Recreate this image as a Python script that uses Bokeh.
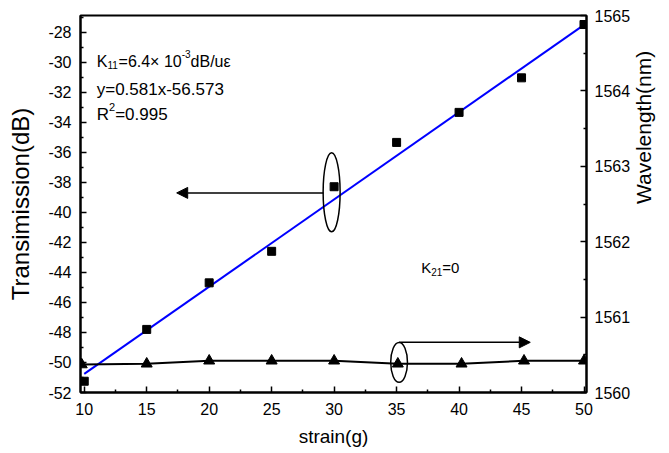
import math
from bokeh.plotting import figure
from bokeh.models import Range1d, LinearAxis, FixedTicker, Label, Arrow, NormalHead
from bokeh.embed import file_html
from bokeh.resources import INLINE

# ---- data ----
strain = [10, 15, 20, 25, 30, 35, 40, 45, 50]
transmission = [-51.25, -47.8, -44.7, -42.6, -38.3, -35.35, -33.35, -31.05, -27.5]
tri_strain = [9.8, 15, 20, 25, 30, 35.1, 40.2, 45.2, 50]
wavelength = [1560.37, 1560.38, 1560.42, 1560.42, 1560.42, 1560.38, 1560.38, 1560.42, 1560.42]
fit_slope = 0.581
fit_intercept = -56.573
fit_x = [10, 50]
x_ticks = [10, 15, 20, 25, 30, 35, 40, 45, 50]
x_minor = [12.5, 17.5, 22.5, 27.5, 32.5, 37.5, 42.5, 47.5]
left_ticks = [-52, -50, -48, -46, -44, -42, -40, -38, -36, -34, -32, -30, -28]
left_minor = [-51, -49, -47, -45, -43, -41, -39, -37, -35, -33, -31, -29, -27]
right_ticks = [1560, 1561, 1562, 1563, 1564, 1565]
right_minor = [1560.5, 1561.5, 1562.5, 1563.5, 1564.5]

FONT = "Liberation Sans"

p = figure(width=669, height=453, x_range=Range1d(9.7, 50.2), y_range=Range1d(-52, -26.9),
           output_backend="svg", toolbar_location=None,
           min_border_left=80, min_border_right=83, min_border_top=15, min_border_bottom=61)
p.extra_y_ranges = {"wl": Range1d(1560, 1565)}
p.xgrid.visible = False
p.ygrid.visible = False
p.outline_line_color = "black"
p.outline_line_width = 2
p.background_fill_color = "white"
p.border_fill_color = "white"

def style_axis(ax, ticks, minor, label, label_size, label_standoff, tick_standoff):
    ax.ticker = FixedTicker(ticks=ticks, minor_ticks=minor)
    ax.major_label_overrides = {t: str(t) for t in ticks}
    ax.axis_label = label
    ax.axis_label_text_font = FONT
    ax.axis_label_text_font_size = label_size
    ax.axis_label_text_font_style = "normal"
    ax.axis_label_text_color = "black"
    ax.axis_label_standoff = label_standoff
    ax.major_label_text_font = FONT
    ax.major_label_text_font_size = "16px"
    ax.major_label_text_color = "black"
    ax.major_label_standoff = tick_standoff
    ax.axis_line_width = 2
    ax.axis_line_color = "black"
    ax.major_tick_in = 6
    ax.major_tick_out = 0
    ax.minor_tick_in = 3
    ax.minor_tick_out = 0
    ax.major_tick_line_width = 1.5
    ax.minor_tick_line_width = 1.5
    ax.major_tick_line_color = "black"
    ax.minor_tick_line_color = "black"

style_axis(p.xaxis[0], x_ticks, x_minor, "strain(g)", "19px", 8, 10)
style_axis(p.yaxis[0], left_ticks, left_minor, "Transimission(dB)", "24px", 11, 9)
right_axis = LinearAxis(y_range_name="wl")
style_axis(right_axis, right_ticks, right_minor, "Wavelength(nm)", "21px", 10, 8)
right_axis.axis_label_orientation = math.pi / 2
right_axis.axis_label_text_align = "center"
right_axis.axis_label_text_baseline = "top"
p.add_layout(right_axis, "right")

# fit line
fit_y = [fit_slope * x + fit_intercept for x in fit_x]
p.line(fit_x, fit_y, line_color="#0000FF", line_width=2)
# transmission squares
p.scatter(strain, transmission, marker="square", size=8, fill_color="black", line_color="black")
# wavelength line with triangles
p.line(tri_strain, wavelength, y_range_name="wl", line_color="black", line_width=2)
p.scatter(tri_strain, wavelength, y_range_name="wl", marker="triangle", size=11,
          fill_color="black", line_color="black")

# ellipses and arrows
p.ellipse(x=[29.8], y=[-38.67], width=1.36, height=5.27, fill_color=None,
          line_color="black", line_width=1.5)
p.add_layout(Arrow(x_start=29.15, y_start=-38.71, x_end=17.4, y_end=-38.71,
                   line_color="black", line_width=1.5,
                   end=NormalHead(size=11, fill_color="black", line_color="black")))
p.ellipse(x=[35.2], y=[1560.4], width=1.34, height=0.53, fill_color=None,
          line_color="black", line_width=1.5, y_range_name="wl")
p.add_layout(Arrow(x_start=35.2, y_start=1560.665, x_end=45.7, y_end=1560.665,
                   y_range_name="wl", line_color="black", line_width=1.5,
                   end=NormalHead(size=11, fill_color="black", line_color="black")))

# rich text helper (sub/superscripts)
W = {'K': .667, '1': .556, '2': .556, '3': .556, '4': .556, '5': .556, '6': .556, '7': .556,
     '8': .556, '9': .556, '0': .556, '=': .584, '.': .278, '×': .584, ' ': .278, '-': .333,
     'd': .556, 'B': .667, '/': .278, 'u': .556, 'ε': .45, 'R': .722, 'y': .5, 'x': .5}

def rich(parts, x, y):
    off = 0.0
    for text, size, dy in parts:
        p.add_layout(Label(x=x, y=y, x_offset=off, y_offset=dy, text=text,
                           text_font=FONT, text_font_size=f"{size}px", text_color="black",
                           text_baseline="alphabetic", text_align="left"))
        off += sum(W.get(c, .556) for c in text) * size

rich([("K", 16, 0), ("11", 10, -4), ("=6.4× 10", 16, 0), ("-3", 10, 7), ("dB/uε", 16, 0)], 11.0, -29.93)
rich([("y=0.581x-56.573", 17, 0)], 11.0, -31.82)
rich([("R", 17, 0), ("2", 11, 7), ("=0.995", 17, 0)], 11.0, -33.49)
rich([("K", 15, 0), ("21", 10, -4), ("=0", 15, 0)], 36.97, -43.71)

open("out.html", "w").write(file_html(p, INLINE))
